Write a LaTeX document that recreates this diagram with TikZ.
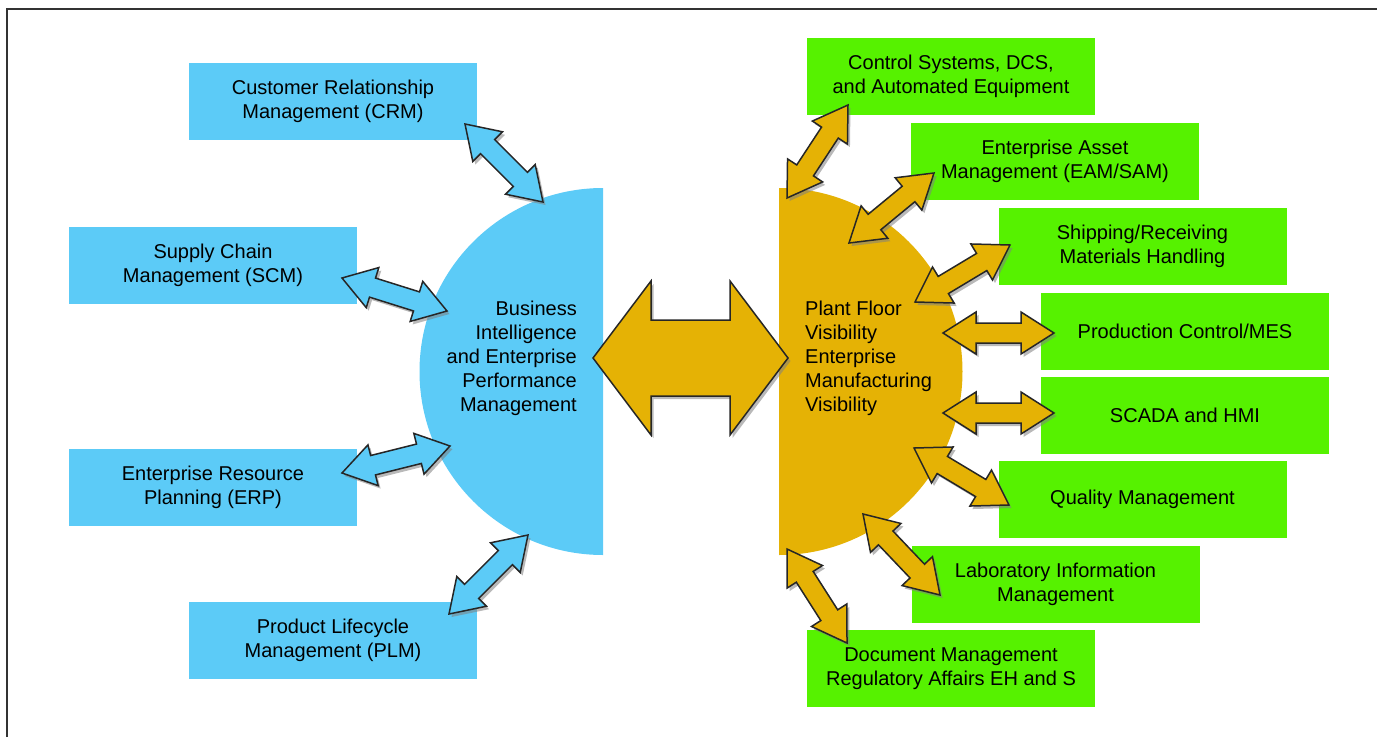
\documentclass[tikz,border=0pt]{standalone}
\usepackage{fontspec}
\setmainfont{Liberation Sans}
\usepackage{tikz}
\usetikzlibrary{calc,shadows,positioning}
\definecolor{bisky}{RGB}{92,203,247}
\definecolor{pfgold}{RGB}{229,178,5}
\definecolor{pfgreen}{RGB}{86,242,0}
\tikzstyle{bibox} = [rectangle, minimum width=288pt, minimum height=77pt, inner sep=0pt, align=center, fill=bisky]
\tikzstyle{pfbox} = [bibox, fill=pfgreen]
\tikzstyle{biarrow} = [fill=bisky, draw=black!85, line width=1.5pt, line join=miter, drop shadow={shadow xshift=2.5pt, shadow yshift=-3pt, opacity=0.55}]
\tikzstyle{pfarrow} = [biarrow, fill=pfgold]

% fat two-headed arrow: style, from, to, head length, head half width, shaft half width
\newcommand{\twoway}[6]{%
  \filldraw[#1] (#2)
    -- ($(#2)!#4!(#3)!#5!90:(#3)$)
    -- ($(#2)!#4!(#3)!#6!90:(#3)$)
    -- ($(#3)!#4!(#2)!#6!-90:(#2)$)
    -- ($(#3)!#4!(#2)!#5!-90:(#2)$)
    -- (#3)
    -- ($(#3)!#4!(#2)!#5!90:(#2)$)
    -- ($(#3)!#4!(#2)!#6!90:(#2)$)
    -- ($(#2)!#4!(#3)!#6!-90:(#3)$)
    -- ($(#2)!#4!(#3)!#5!-90:(#3)$)
    -- cycle;}

\begin{document}
\begin{tikzpicture}[x=1pt, y=-1pt, font=\fontsize{20}{24}\selectfont]
\useasboundingbox (0,0) rectangle (1377,737);
\draw[black!80, line width=1.5pt] (7,737) -- (7,9) -- (1377,9);

% half discs
\fill[bisky] (603,188) arc[start angle=270, end angle=90, radius=183.5] -- cycle;
\fill[pfgold] (779,188) arc[start angle=-90, end angle=90, radius=183.5] -- cycle;

% business side
\node (crm) [bibox] at (333,101.5) {Customer Relationship\\Management (CRM)};
\node (scm) [bibox] at (213,265.5) {Supply Chain\\Management (SCM)};
\node (erp) [bibox] at (213,487) {Enterprise Resource\\Planning (ERP)};
\node (plm) [bibox] at (333,640) {Product Lifecycle\\Management (PLM)};

% plant floor side
\node (dcs) [pfbox] at (951,76.5) {Control Systems, DCS,\\and Automated Equipment};
\node (eam) [pfbox] at (1055,161.5) {Enterprise Asset\\Management (EAM/SAM)};
\node (ship) [pfbox] at (1142.5,246) {Shipping/Receiving\\Materials Handling};
\node (mes) [pfbox] at (1185,331) {Production Control/MES};
\node (scada) [pfbox] at (1185,415.5) {SCADA and HMI};
\node (qm) [pfbox] at (1142.5,499.5) {Quality Management};
\node (lims) [pfbox] at (1055.5,584.5) {Laboratory Information\\Management};
\node (doc) [pfbox] at (951,668.5) {Document Management\\Regulatory Affairs EH and S};

% arrow ends
\coordinate (crm-a) at (465,124);   \coordinate (crm-b) at (543,202);
\coordinate (scm-a) at (342,278);   \coordinate (scm-b) at (447,311);
\coordinate (erp-a) at (342,473);   \coordinate (erp-b) at (450,446);
\coordinate (plm-a) at (449,614);   \coordinate (plm-b) at (528,535);
\coordinate (dcs-a) at (787,198);   \coordinate (dcs-b) at (848,105);
\coordinate (eam-a) at (849,243);   \coordinate (eam-b) at (934,173);
\coordinate (ship-a) at (915,302);  \coordinate (ship-b) at (1010,245);
\coordinate (mes-a) at (943,333);   \coordinate (mes-b) at (1054,333);
\coordinate (scada-a) at (943,413); \coordinate (scada-b) at (1054,413);
\coordinate (qm-a) at (914,448);    \coordinate (qm-b) at (1009,505);
\coordinate (lims-a) at (863,514);  \coordinate (lims-b) at (940,595);
\coordinate (doc-a) at (787,549);   \coordinate (doc-b) at (847,643);
\coordinate (link-a) at (593,358);  \coordinate (link-b) at (788,358);

\twoway{biarrow}{crm-a}{crm-b}{32pt}{21pt}{10pt}
\twoway{biarrow}{scm-a}{scm-b}{32pt}{21pt}{10pt}
\twoway{biarrow}{erp-a}{erp-b}{32pt}{21pt}{10pt}
\twoway{biarrow}{plm-a}{plm-b}{32pt}{21pt}{10pt}
\foreach \s in {dcs,eam,ship,mes,scada,qm,lims,doc}{
  \twoway{pfarrow}{\s-a}{\s-b}{33pt}{21pt}{10pt}
}

% link between the two sides
\twoway{pfarrow}{link-a}{link-b}{58pt}{77pt}{38pt}

\node (bi) [anchor=east, align=right, inner sep=0pt] at (577,358) {Business\\Intelligence\\and Enterprise\\Performance\\Management};
\node (pf) [anchor=west, align=left, inner sep=0pt] at (805,358) {Plant Floor\\Visibility\\Enterprise\\Manufacturing\\Visibility};
\end{tikzpicture}
\end{document}
